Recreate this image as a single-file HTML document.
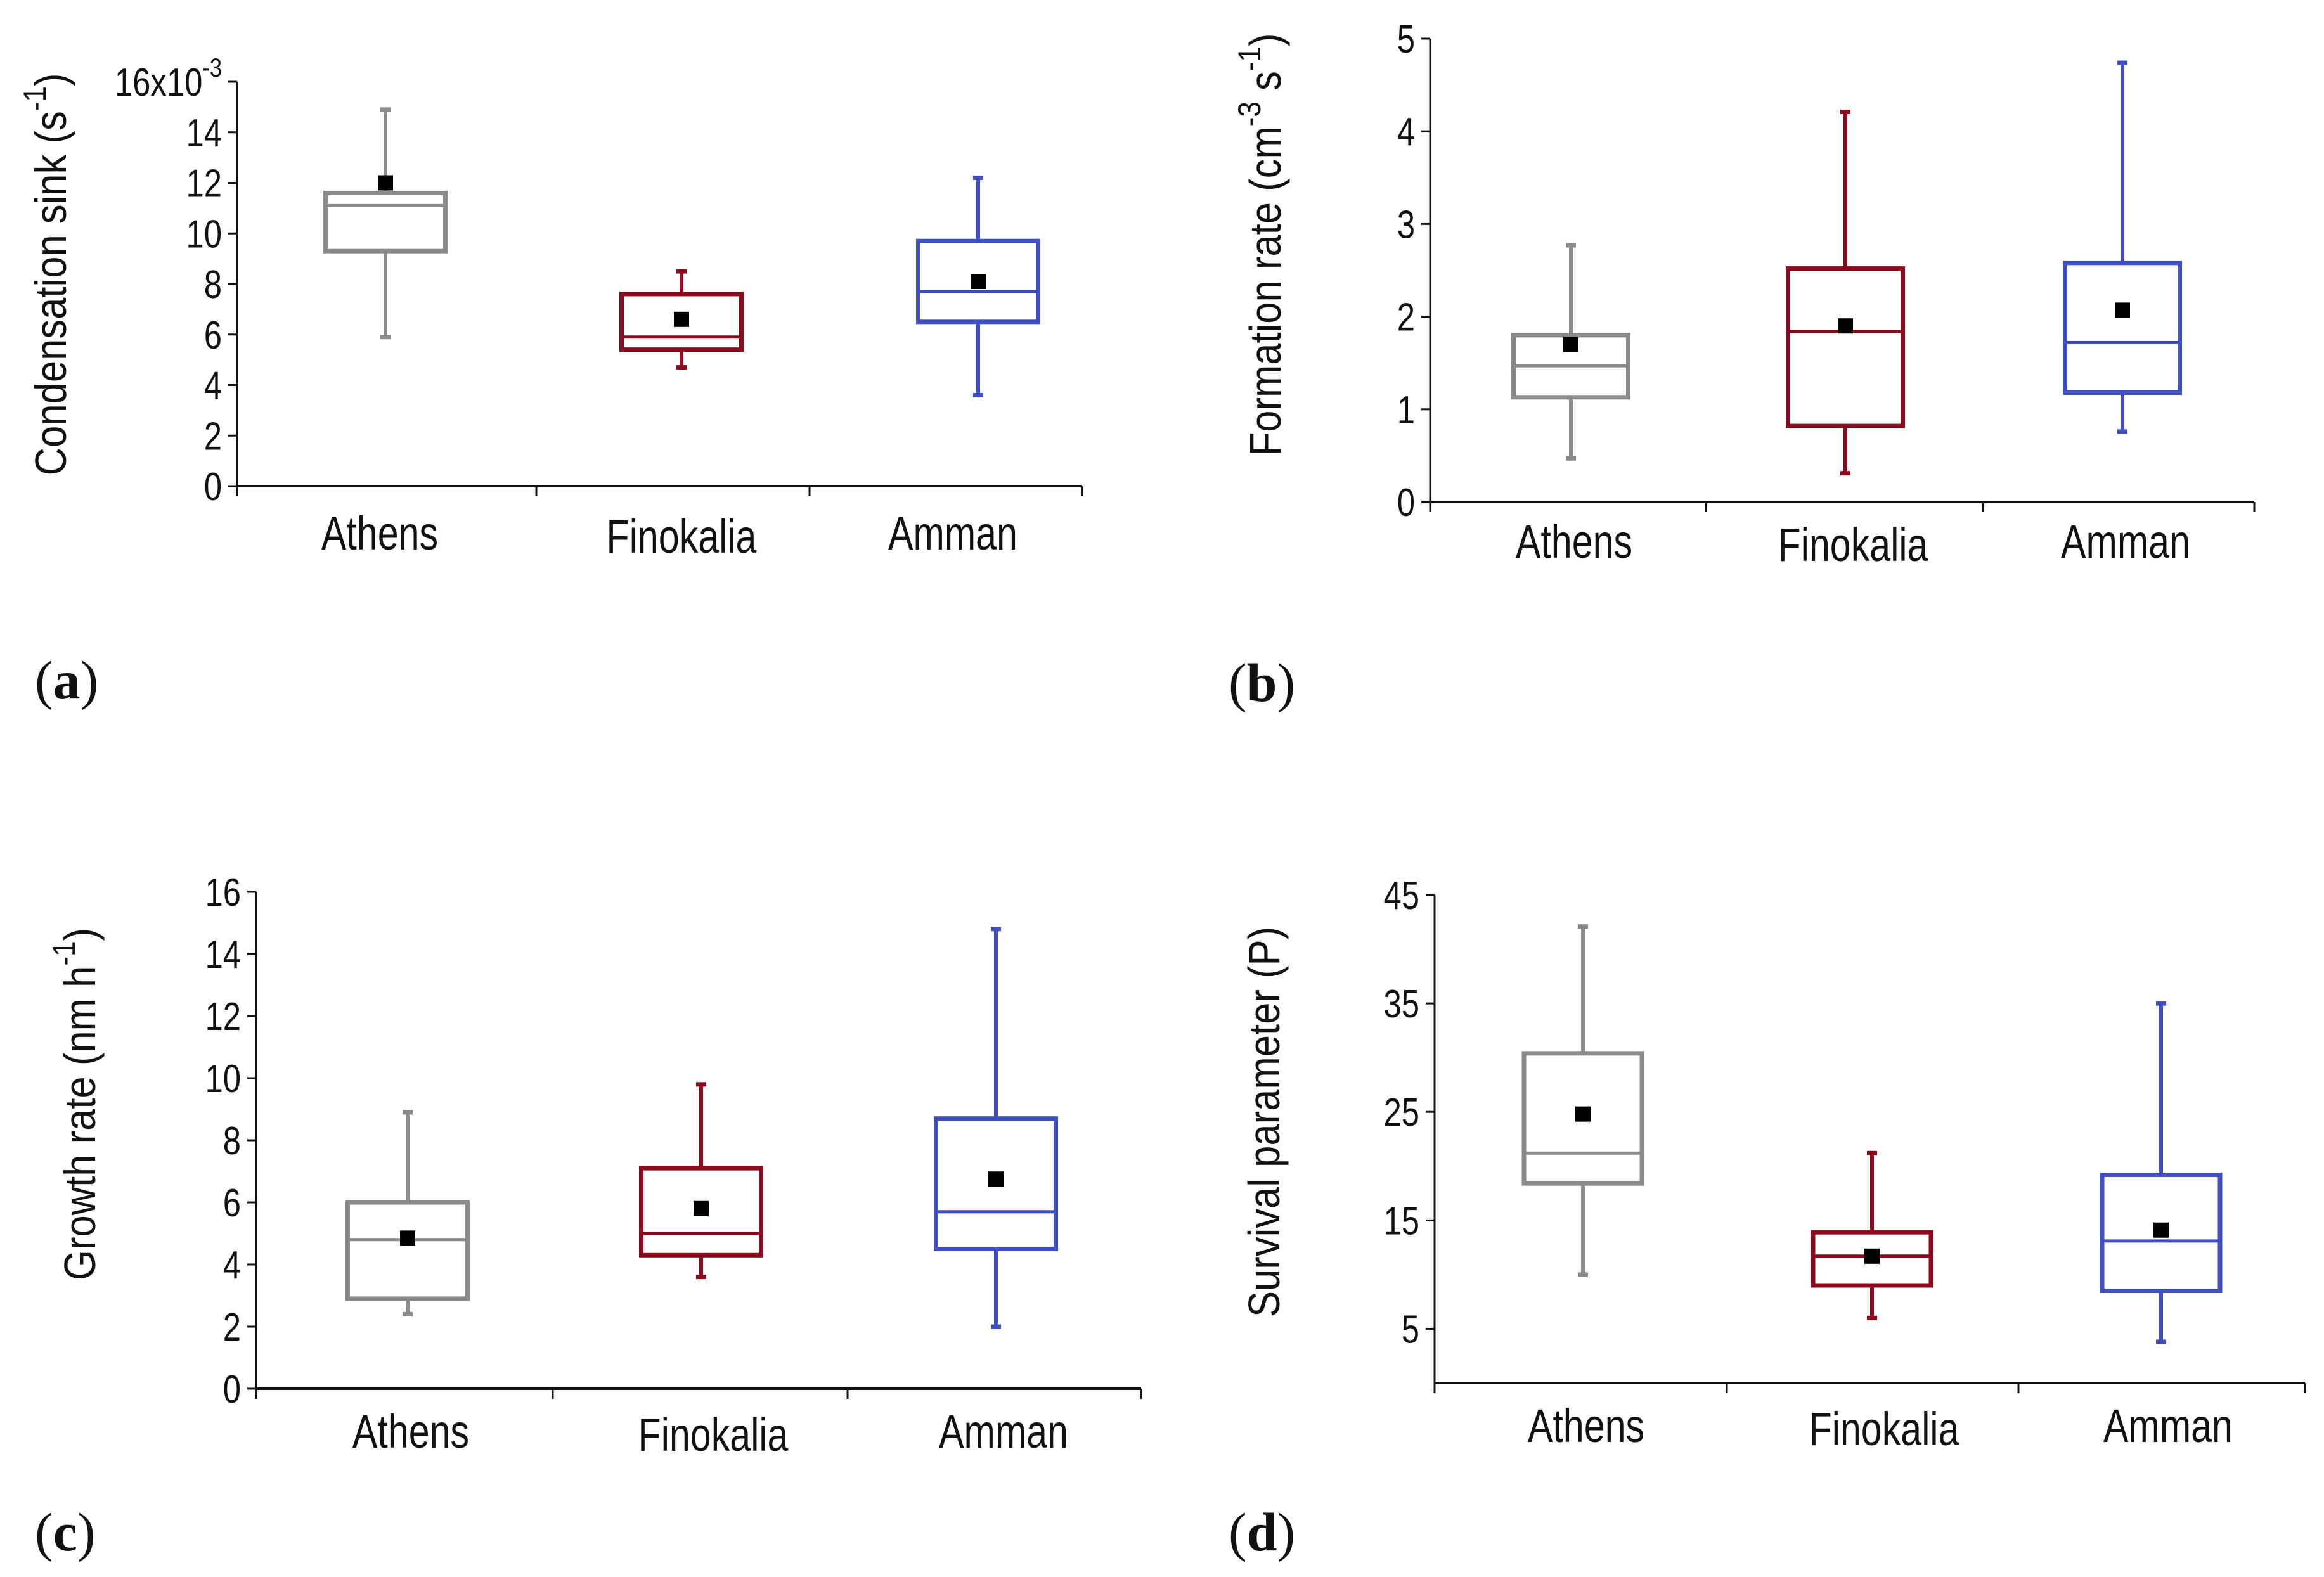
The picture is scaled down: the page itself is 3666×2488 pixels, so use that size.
<!DOCTYPE html>
<html><head><meta charset="utf-8"><style>
html,body{margin:0;padding:0;background:#fff;overflow:hidden;}
svg{display:block;}
.tk{font-family:"Liberation Sans",sans-serif;font-size:62px;fill:#111;}
.xl{font-family:"Liberation Sans",sans-serif;font-size:74px;fill:#111;}
.yt{font-family:"Liberation Sans",sans-serif;font-size:70px;fill:#111;}
.pl{font-family:"Liberation Serif",serif;font-size:86px;fill:#111;}
</style></head><body>
<svg id="fig" width="3666" height="2488" viewBox="0 0 3666 2488" xmlns="http://www.w3.org/2000/svg"></svg>
<script>
const categories = ["Athens","Finokalia","Amman"];
const colors = ["#8a8a8a","#8b0a1e","#3f4fc2"];
// panel a: condensation sink (x10^-3)
const aWhiskLow = [5.9, 4.7, 3.6];
const aQ1 = [9.3, 5.4, 6.5];
const aMedian = [11.1, 5.9, 7.7];
const aQ3 = [11.6, 7.6, 9.7];
const aWhiskHigh = [14.9, 8.5, 12.2];
const aMean = [12.0, 6.6, 8.1];
const aTicks = [0,2,4,6,8,10,12,14,16];
// panel b: formation rate
const bWhiskLow = [0.47, 0.31, 0.76];
const bQ1 = [1.13, 0.82, 1.18];
const bMedian = [1.47, 1.84, 1.72];
const bQ3 = [1.8, 2.52, 2.58];
const bWhiskHigh = [2.77, 4.21, 4.74];
const bMean = [1.7, 1.9, 2.07];
const bTicks = [0,1,2,3,4,5];
// panel c: growth rate
const cWhiskLow = [2.4, 3.6, 2.0];
const cQ1 = [2.9, 4.3, 4.5];
const cMedian = [4.8, 5.0, 5.7];
const cQ3 = [6.0, 7.1, 8.7];
const cWhiskHigh = [8.9, 9.8, 14.8];
const cMean = [4.85, 5.8, 6.75];
const cTicks = [0,2,4,6,8,10,12,14,16];
// panel d: survival parameter
const dWhiskLow = [10, 6, 3.8];
const dQ1 = [18.4, 9.0, 8.5];
const dMedian = [21.2, 11.7, 13.1];
const dQ3 = [30.4, 13.9, 19.2];
const dWhiskHigh = [42.1, 21.2, 35];
const dMean = [24.8, 11.7, 14.1];
const dTicks = [5,15,25,35,45];

const NS="http://www.w3.org/2000/svg";
const fig=document.getElementById('fig');
function mk(tag,attrs,parent){const e=document.createElementNS(NS,tag);for(const k in attrs)e.setAttribute(k,attrs[k]);(parent||fig).appendChild(e);return e;}

function panel(cfg){
  const g=mk('g',{});
  
  
  const y=v=>cfg.y0+(v-cfg.vmin)/(cfg.vmax-cfg.vmin)*(cfg.y1-cfg.y0);
  const ax=cfg.sep[0], xEnd=cfg.sep[3];
  const xa=mk('line',{x1:ax,y1:y(cfg.vmin),x2:xEnd,y2:y(cfg.vmin),stroke:'#111','stroke-width':4},g);
  
  
  const ya=mk('line',{x1:ax,y1:y(cfg.vmin),x2:ax,y2:y(cfg.vmax),stroke:'#111','stroke-width':3},g);
  
  
  cfg.sep.forEach(sx=>{
    mk('line',{x1:sx,y1:y(cfg.vmin),x2:sx,y2:y(cfg.vmin)+16,stroke:'#111','stroke-width':3},g);
  });
  cfg.ticks.forEach((t,i)=>{
    mk('line',{x1:ax-14,y1:y(t),x2:ax,y2:y(t),stroke:'#111','stroke-width':3},g);
    const tx=mk('text',{transform:`translate(${ax-24},${y(t)+22}) scale(0.82,1)`,'text-anchor':'end',class:'tk'},g);
    tx.textContent=(cfg.topLabel && i===cfg.ticks.length-1)?cfg.topLabel:String(t);
    
    
    if(cfg.topLabel && i===cfg.ticks.length-1){
      const s=mk('tspan',{dy:-30,'font-size':42},tx);s.textContent='-3';
    }
  });
  categories.forEach((c,i)=>{
    const cx=cfg.centers[i];
    const col=colors[i];
    const bw=cfg.bw;
    const bg=mk('g',{},g);
    
    
    mk('line',{x1:cx,y1:y(cfg.lo[i]),x2:cx,y2:y(cfg.q1[i]),stroke:col,'stroke-width':6},bg);
    mk('line',{x1:cx,y1:y(cfg.q3[i]),x2:cx,y2:y(cfg.hi[i]),stroke:col,'stroke-width':6},bg);
    mk('line',{x1:cx-8,y1:y(cfg.lo[i]),x2:cx+8,y2:y(cfg.lo[i]),stroke:col,'stroke-width':7},bg);
    mk('line',{x1:cx-8,y1:y(cfg.hi[i]),x2:cx+8,y2:y(cfg.hi[i]),stroke:col,'stroke-width':7},bg);
    mk('rect',{x:cx-bw/2,y:y(cfg.q3[i]),width:bw,height:y(cfg.q1[i])-y(cfg.q3[i]),fill:'none',stroke:col,'stroke-width':7},bg);
    mk('line',{x1:cx-bw/2,y1:y(cfg.median[i]),x2:cx+bw/2,y2:y(cfg.median[i]),stroke:col,'stroke-width':5},bg);
    const m=mk('rect',{x:cx-12,y:y(cfg.mean[i])-12,width:24,height:24,fill:'#000'},bg);
    
    
    const xl=mk('text',{transform:`translate(${cfg.lx[i]},${cfg.xly+(i===1?5:0)}) scale(0.8,1)`,'text-anchor':'middle',class:'xl'},g);
    xl.textContent=c;
    
    
  });
  const yt=mk('text',{transform:`translate(${cfg.tx},${cfg.ty}) rotate(-90) scale(0.88,1)`,'text-anchor':'middle',class:'yt'},g);
  
  
  cfg.title.forEach(p=>{const s=mk('tspan',p.sup?{dy:-32,'font-size':50}:(p.down?{dy:32}:{}),yt);s.textContent=p.t;});
  const pl=mk('text',{x:cfg.plx,y:cfg.ply,class:'pl'},g);
  pl.textContent='(';
  const b=mk('tspan',{'font-weight':'bold'},pl);b.textContent=cfg.id;
  const e=mk('tspan',{},pl);e.textContent=')';
  
  
}

panel({id:'a',sep:[374,846,1277,1707],centers:[608,1075,1543],lx:[599,1075,1503],y0:767,y1:129,vmin:0,vmax:16,ticks:aTicks,topLabel:'16x10',
  lo:aWhiskLow,q1:aQ1,median:aMedian,q3:aQ3,hi:aWhiskHigh,mean:aMean,bw:189,xly:867,
  tx:104,ty:433,title:[{t:'Condensation sink (s'},{t:'-1',sup:true},{t:')',down:true}],plx:55,ply:1102});
panel({id:'b',sep:[2256,2691,3128,3556],centers:[2478,2911,3348],lx:[2483,2923,3353],y0:792,y1:61,vmin:0,vmax:5,ticks:bTicks,
  lo:bWhiskLow,q1:bQ1,median:bMedian,q3:bQ3,hi:bWhiskHigh,mean:bMean,bw:181,xly:880,
  tx:2020,ty:386,title:[{t:'Formation  rate (cm'},{t:'-3',sup:true},{t:' s',down:true},{t:'-1',sup:true},{t:')',down:true}],plx:1938,ply:1106});
panel({id:'c',sep:[404,872,1337,1800],centers:[643,1106,1571],lx:[648,1125,1583],y0:2191,y1:1407,vmin:0,vmax:16,ticks:cTicks,
  lo:cWhiskLow,q1:cQ1,median:cMedian,q3:cQ3,hi:cWhiskHigh,mean:cMean,bw:189,xly:2284,
  tx:150,ty:1742,title:[{t:'Growth rate (nm h'},{t:'-1',sup:true},{t:')',down:true}],plx:55,ply:2446});
panel({id:'d',sep:[2263,2724,3184,3636],centers:[2497,2953,3409],lx:[2502,2972,3420],y0:2182,y1:1412,vmin:0,vmax:45,ticks:dTicks,
  lo:dWhiskLow,q1:dQ1,median:dMedian,q3:dQ3,hi:dWhiskHigh,mean:dMean,bw:186,xly:2275,
  tx:2018,ty:1770,title:[{t:'Survival parameter (P)'}],plx:1938,ply:2446});
</script>
</body></html>
